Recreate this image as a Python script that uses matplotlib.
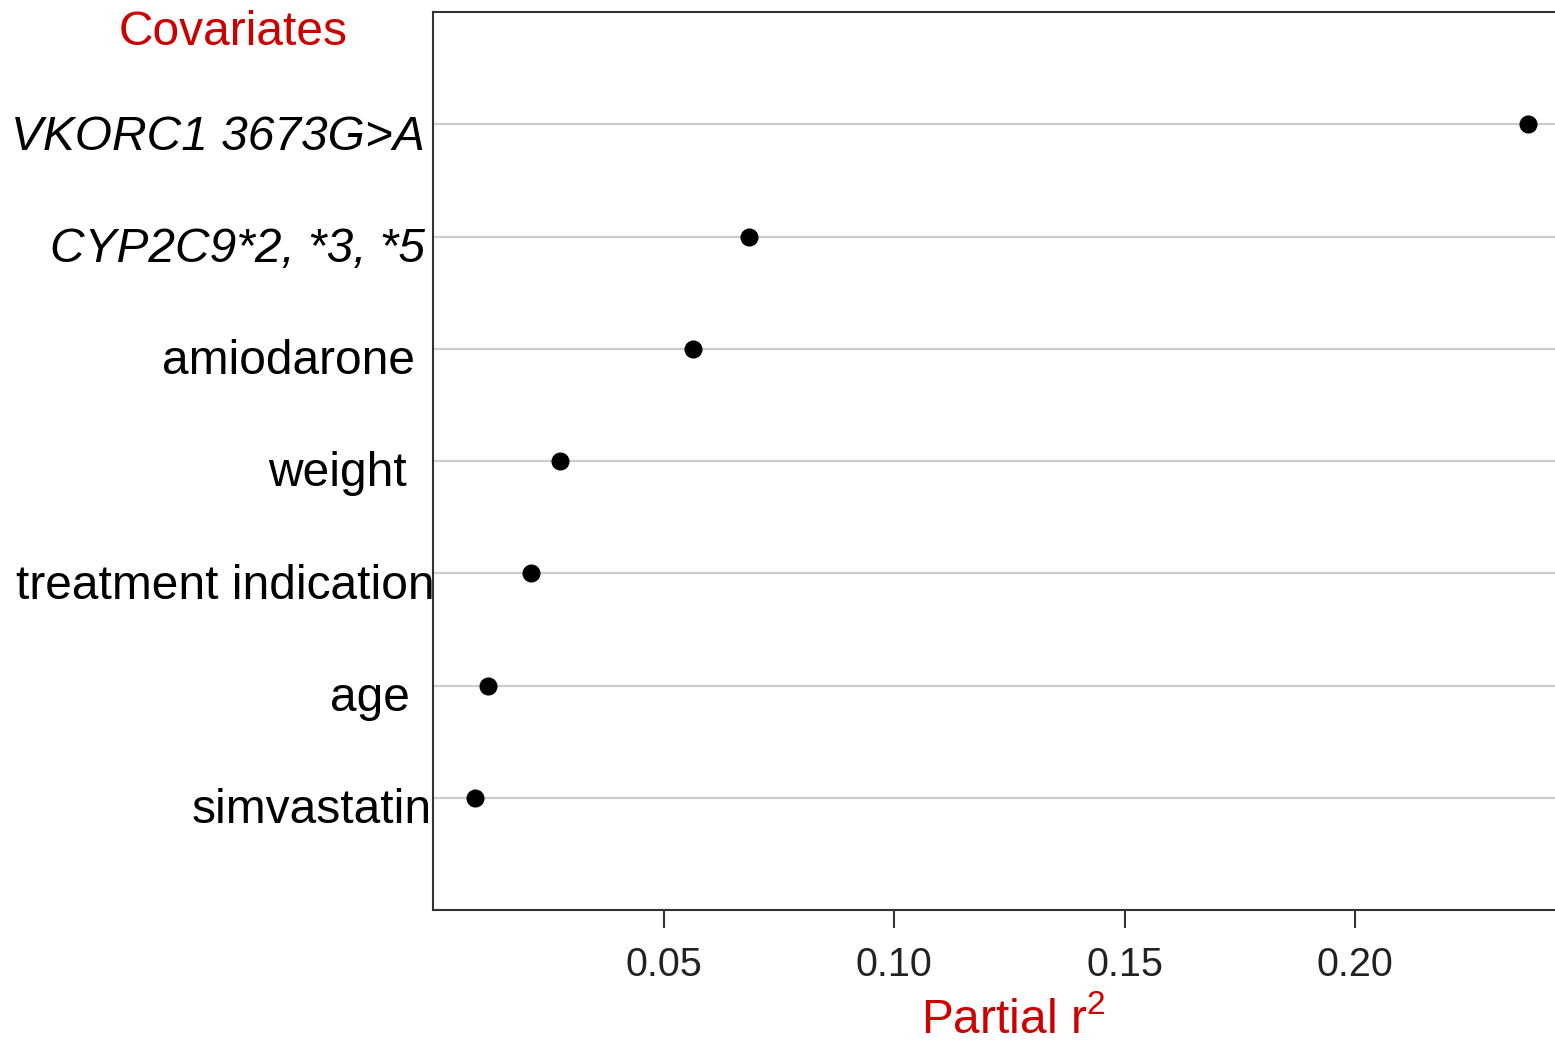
import matplotlib
matplotlib.use("Agg")
import matplotlib.pyplot as plt
import matplotlib.transforms as mtransforms

plt.rcParams['font.family'] = ['Liberation Sans', 'DejaVu Sans']
plt.rcParams['mathtext.default'] = 'regular'

covariates = ["VKORC1 3673G>A", "CYP2C9*2, *3, *5", "amiodarone", "weight",
              "treatment indication", "age", "simvastatin"]
partial_r2 = [0.2375, 0.0686, 0.0563, 0.0275, 0.0212, 0.0119, 0.0091]
italic_flags = [True, True, False, False, False, False, False]
xtick_vals = [0.05, 0.10, 0.15, 0.20]
xtick_labels = ["0.05", "0.10", "0.15", "0.20"]

RED = "#cc0000"

fig = plt.figure(figsize=(15.55, 10.45), dpi=100)
ax = fig.add_axes([433/1555, 1 - 910/1045, 1 - 433/1555, (910 - 12)/1045])

n = len(covariates)
ypos = [n - i for i in range(n)]

for y in ypos:
    ax.axhline(y, color="#cccccc", lw=1.6, zorder=1)

ax.plot(partial_r2, ypos, 'o', color='black', ms=12, zorder=3, linestyle='none')

ax.set_xlim(0.0, 0.2433)
ax.set_ylim(0, n + 1)

ax.set_xticks(xtick_vals)
ax.set_xticklabels(xtick_labels, fontsize=28.5, color="#222222")
ax.tick_params(axis='x', length=13, width=1.5, color="#333333", pad=13)

ax.set_yticks(ypos)
ax.set_yticklabels(covariates, fontsize=34.5)
ax.tick_params(axis='y', length=0, pad=0)

# per-label horizontal offsets in pixels (right edge relative to axis)
x_offsets_px = [-8, -8, -18, -26, 2, -23, -1]
font_styles = ['italic' if it else 'normal' for it in italic_flags]
for lab, st, dx in zip(ax.get_yticklabels(), font_styles, x_offsets_px):
    lab.set_style(st)
    lab.set_transform(lab.get_transform() + mtransforms.ScaledTranslation(dx/100, -8/100, fig.dpi_scale_trans))

for side in ['left', 'bottom', 'top']:
    ax.spines[side].set_color("#333333")
    ax.spines[side].set_linewidth(1.5)
ax.spines['right'].set_visible(False)

fig.text(233/1555, 1 - 45/1045, "Covariates", color=RED, fontsize=34.5,
         ha='center', va='baseline')
fig.text(1013/1555, 1 - 1033/1045, "Partial r$^{2}$", color=RED, fontsize=34.5,
         ha='center', va='baseline')

fig.savefig("out.png", dpi=100)
